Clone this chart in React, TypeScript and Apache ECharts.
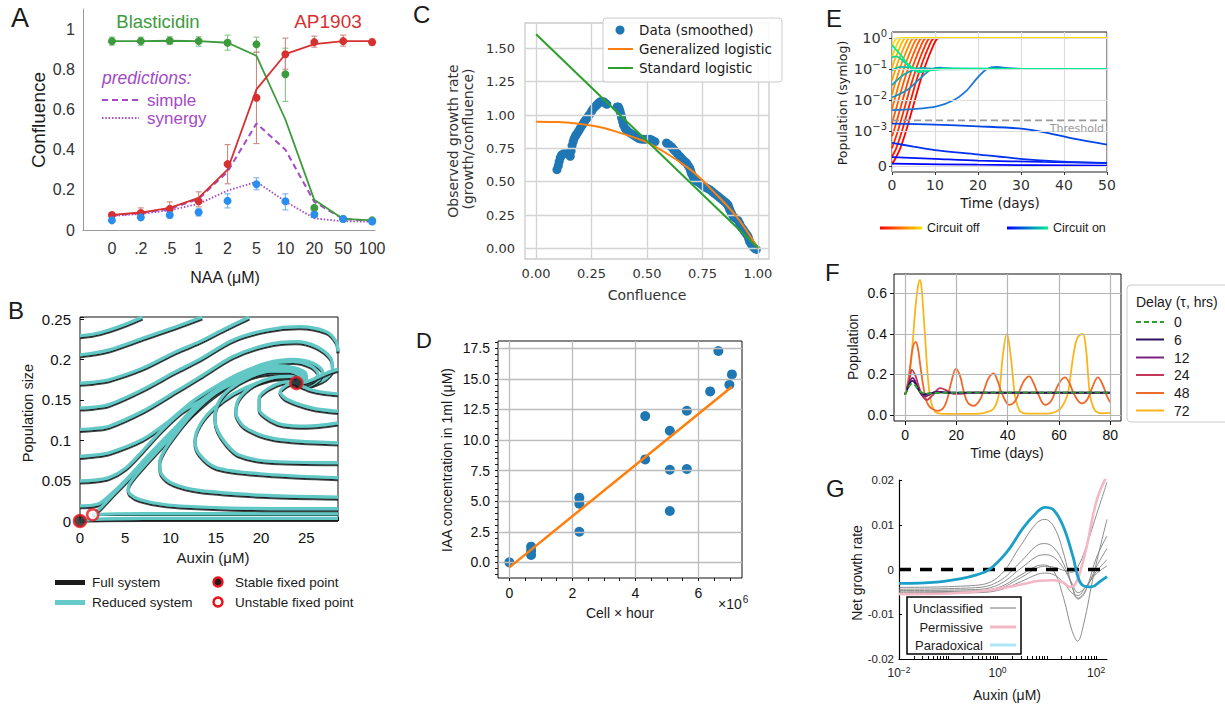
import React, { useEffect, useRef } from 'react';
import * as echarts from 'echarts';

const SANS = '"Liberation Sans", Arial, Helvetica, sans-serif';
const DEJA = '"DejaVu Sans", Verdana, sans-serif';
const PURP = '#a44ac6';

/* ---------------- Panel A ---------------- */
const naaLabels = ['0', '.2', '.5', '1', '2', '5', '10', '20', '50', '100'];
const blastDots = [0.94, 0.94, 0.942, 0.94, 0.932, 0.924, 0.775, 0.11, 0.055, 0.048];
const blastFit = [0.94, 0.94, 0.942, 0.94, 0.932, 0.867, 0.55, 0.15, 0.055, 0.048];
const blastErr = [[0.92, 0.96], [0.92, 0.96], [0.925, 0.962], [0.915, 0.962], [0.895, 0.97], [0.885, 0.96], [0.64, 0.905], [0.1, 0.12], [0.05, 0.06], [0.04, 0.055]];
const apDots = [0.075, 0.085, 0.105, 0.143, 0.328, 0.658, 0.875, 0.935, 0.94, 0.935];
const apFit = [0.075, 0.087, 0.11, 0.16, 0.3, 0.7, 0.875, 0.925, 0.94, 0.94];
const apErr = [[0.065, 0.085], [0.07, 0.11], [0.09, 0.14], [0.115, 0.19], [0.23, 0.425], [0.43, 0.885], [0.8, 0.955], [0.91, 0.965], [0.915, 0.97], [0.92, 0.95]];
const comboDots = [0.048, 0.063, 0.075, 0.088, 0.145, 0.228, 0.143, 0.077, 0.055, 0.042];
const comboErr = [[0.04, 0.055], [0.05, 0.075], [0.06, 0.09], [0.07, 0.105], [0.11, 0.18], [0.2, 0.26], [0.1, 0.18], [0.065, 0.09], [0.05, 0.062], [0.035, 0.05]];
const predSimple = [0.072, 0.085, 0.105, 0.155, 0.29, 0.53, 0.4, 0.14, 0.055, 0.045];
const predSynergy = [0.07, 0.08, 0.098, 0.13, 0.196, 0.24, 0.142, 0.058, 0.043, 0.042];

/* ---------------- Panel B ---------------- */
const streamLines = [
  [[0, 0.2294], [1.5, 0.2315], [3.2, 0.2365], [5, 0.2435], [6.9, 0.2525]],
  [[0, 0.2057], [1.5, 0.208], [3.2, 0.2118], [6.9, 0.2261], [10.6, 0.2405], [13.5, 0.2525]],
  [[0, 0.1707], [1.5, 0.172], [3.2, 0.1749], [6.9, 0.1892], [10.6, 0.2097], [13.2, 0.222], [16, 0.238], [18.7, 0.2525]],
  [[0, 0.1399], [1.5, 0.141], [3.2, 0.1441], [6.9, 0.1626], [10.6, 0.1851], [13.2, 0.2], [16.9, 0.2241], [20.6, 0.2364], [24.2, 0.2405], [27.2, 0.2344], [28.3, 0.222], [28.5, 0.21]],
  [[0, 0.1133], [1.5, 0.1145], [3.2, 0.1174], [6.9, 0.1358], [10.6, 0.1605], [13.2, 0.178], [16.9, 0.2036], [20.6, 0.218], [23.9, 0.222], [26.1, 0.216], [27.7, 0.2015], [27.9, 0.1872], [27.2, 0.177], [26.2, 0.171], [25, 0.1672], [24.1, 0.1685], [23.9, 0.1707]],
  [[0, 0.08], [1.5, 0.0815], [3.2, 0.0845], [6.9, 0.101], [9.8, 0.1235], [12.4, 0.148], [15, 0.1666], [17.5, 0.182], [20.6, 0.1955], [23.5, 0.2], [25.7, 0.1955], [26.8, 0.185], [26.4, 0.175], [25, 0.1675], [23.9, 0.1707]],
  [[0, 0.0496], [1.5, 0.0505], [3.2, 0.0537], [5.1, 0.066], [6.9, 0.0866], [9.1, 0.1133], [11.3, 0.1358], [13.5, 0.15], [15, 0.161], [17, 0.177], [20.6, 0.1935], [23.5, 0.1975], [25.5, 0.192], [26.3, 0.182], [25.7, 0.1735], [24.6, 0.1695], [23.9, 0.1707]],
  [[0, 0.0189], [1.3, 0.0195], [2.2, 0.022], [3.5, 0.034], [5.14, 0.052], [7.7, 0.083], [10.3, 0.113], [13.2, 0.147], [16.15, 0.17], [19.1, 0.1865], [21.7, 0.1925], [23.6, 0.19], [24.9, 0.1835], [25, 0.1755], [24.4, 0.171], [23.9, 0.1707]],
  [[1.4, 0.0078], [2.2, 0.0155], [3.5, 0.031], [5.14, 0.05], [7.7, 0.0815], [10.3, 0.1115], [13.2, 0.1455], [16.15, 0.1685], [19.1, 0.1845], [21.7, 0.1905], [23.5, 0.1885], [24.6, 0.1825], [24.7, 0.175], [23.9, 0.1707]],
  [[28.5, 0.0032], [20, 0.0032], [10, 0.0032], [4, 0.003], [1, 0.0018], [0, 0.0005]],
  [[28.5, 0.0092], [20, 0.0092], [10, 0.0092], [4, 0.009], [1.4, 0.0078]],
  [[28.5, 0.0152], [16.9, 0.016], [9.5, 0.0201], [6.6, 0.0267], [5.5, 0.0337], [5.32, 0.0398], [5.7, 0.05], [7.2, 0.07], [9.5, 0.098], [12.5, 0.133], [15.5, 0.161], [18.5, 0.18], [21.5, 0.1885], [23.4, 0.186], [24.4, 0.1795], [24.4, 0.173], [23.9, 0.1707]],
  [[28.5, 0.0296], [20.6, 0.0316], [13.2, 0.0378], [10.3, 0.046], [9, 0.058], [8.8, 0.0727], [9.4, 0.089], [10.7, 0.1096], [12.5, 0.1342], [15, 0.1589], [18, 0.1753], [20.6, 0.1827], [22.8, 0.1835], [24.2, 0.1786], [24.4, 0.1732], [23.9, 0.1707]],
  [[28.5, 0.0537], [20.6, 0.0579], [15.1, 0.066], [13.2, 0.0825], [12.7, 0.1], [13.3, 0.12], [14.8, 0.14], [17, 0.158], [19.5, 0.1705], [22, 0.177], [23.6, 0.1765], [24.2, 0.1725], [23.9, 0.1707]],
  [[28.5, 0.0722], [20.6, 0.0743], [17.5, 0.082], [16.2, 0.0948], [15.2, 0.112], [14.9, 0.1276], [15.3, 0.147], [16.5, 0.163], [18.7, 0.178], [21, 0.1855], [23, 0.1855], [24.3, 0.18], [24.5, 0.1735], [23.9, 0.1707]],
  [[28.5, 0.0968], [24.2, 0.0989], [21.5, 0.102], [19.8, 0.1071], [18, 0.118], [17.2, 0.135], [17.6, 0.152], [19.1, 0.168], [21.3, 0.1775], [23.2, 0.179], [24.2, 0.1755], [23.9, 0.1707]],
  [[28.5, 0.1214], [25, 0.1174], [22.5, 0.119], [21.3, 0.1235], [19.8, 0.138], [19.8, 0.1525], [20.8, 0.164], [22.3, 0.1715], [23.5, 0.1725], [23.9, 0.1707]],
  [[28.5, 0.1358], [25.6, 0.14], [22.8, 0.151], [22.1, 0.16], [22.8, 0.168], [23.6, 0.1715], [23.9, 0.1707]],
  [[28.5, 0.188], [27.2, 0.183], [25.9, 0.176], [24.6, 0.1712], [23.9, 0.1707]],
  [[28.5, 0.1575], [27, 0.159], [25.5, 0.1625], [24.5, 0.167], [23.9, 0.1707]],
];
const stablePts = [[0, 0], [23.9, 0.1707]];
const unstablePts = [[1.4, 0.0078]];

/* ---------------- Panel C ---------------- */
const cData = [[0.094, 0.59], [0.1, 0.62], [0.104, 0.65], [0.109, 0.68], [0.115, 0.7], [0.124, 0.71], [0.135, 0.71], [0.147, 0.71], [0.154, 0.69], [0.158, 0.73], [0.162, 0.77], [0.167, 0.8], [0.172, 0.825], [0.178, 0.845], [0.184, 0.86], [0.192, 0.88], [0.199, 0.9], [0.206, 0.92], [0.214, 0.94], [0.221, 0.958], [0.229, 0.975], [0.236, 0.993], [0.244, 1.01], [0.251, 1.03], [0.259, 1.05], [0.266, 1.063], [0.274, 1.075], [0.281, 1.088], [0.289, 1.1], [0.296, 1.1], [0.304, 1.1], [0.311, 1.09], [0.319, 1.08], [0.365, 1.06], [0.371, 1.06], [0.375, 1.045], [0.379, 1.025], [0.383, 1.0], [0.386, 0.975], [0.39, 0.95], [0.394, 0.925], [0.401, 0.9], [0.408, 0.888], [0.416, 0.875], [0.427, 0.862], [0.439, 0.85], [0.45, 0.838], [0.461, 0.825], [0.472, 0.82], [0.484, 0.818], [0.498, 0.818], [0.513, 0.818], [0.525, 0.81], [0.536, 0.8], [0.588, 0.79], [0.6, 0.775], [0.611, 0.76], [0.618, 0.745], [0.626, 0.73], [0.637, 0.71], [0.648, 0.69], [0.656, 0.675], [0.663, 0.66], [0.671, 0.65], [0.678, 0.64], [0.686, 0.62], [0.693, 0.6], [0.697, 0.58], [0.701, 0.56], [0.708, 0.535], [0.716, 0.51], [0.727, 0.5], [0.738, 0.49], [0.749, 0.475], [0.76, 0.46], [0.772, 0.45], [0.783, 0.44], [0.794, 0.425], [0.805, 0.41], [0.817, 0.395], [0.828, 0.38], [0.839, 0.365], [0.85, 0.35], [0.858, 0.338], [0.865, 0.325], [0.869, 0.308], [0.873, 0.29], [0.88, 0.265], [0.888, 0.24], [0.899, 0.225], [0.91, 0.21], [0.918, 0.185], [0.925, 0.16], [0.933, 0.143], [0.94, 0.125], [0.948, 0.108], [0.955, 0.09], [0.959, 0.07], [0.963, 0.05], [0.97, 0.03], [0.978, 0.012], [0.985, 0.0], [0.993, -0.008]];
const cGeneralized = [[0, 0.95], [0.1, 0.947], [0.2, 0.933], [0.3, 0.905], [0.4, 0.855], [0.5, 0.795], [0.6, 0.7], [0.7, 0.585], [0.75, 0.51], [0.8, 0.425], [0.85, 0.34], [0.9, 0.245], [0.95, 0.13], [1, 0.0]];
const cStandard = [[0, 1.605], [1, 0.005]];

/* ---------------- Panel D ---------------- */
const dCellHours = [0, 0.69, 0.69, 0.69, 2.22, 2.22, 2.22, 4.31, 4.31, 5.09, 5.09, 5.09, 5.63, 5.63, 6.37, 6.63, 6.98, 7.06];
const dIAA = [0, 1.28, 0.95, 0.6, 5.29, 4.8, 2.5, 11.96, 8.42, 10.76, 7.57, 4.2, 12.4, 7.63, 13.98, 17.28, 14.52, 15.37];
const dFit = [[0, -0.41], [7.06, 14.36]];

/* ---------------- Panel E (population values) ---------------- */
const eOff = [
  [[0, 9e-5], [0.37, 1.25e-4], [1.92, 5.1e-4], [3.47, 1.26e-3], [5.01, 7.1e-3], [6.56, 0.04], [8.1, 0.178], [9.65, 0.6], [10.4, 0.93], [11, 1], [50, 1]],
  [[0, 2.7e-4], [0.97, 5.1e-4], [2.52, 1.26e-3], [4.06, 7.1e-3], [5.61, 0.04], [7.15, 0.178], [8.7, 0.6], [9.45, 0.93], [10.05, 1], [50, 1]],
  [[0, 5.1e-4], [1.57, 1.26e-3], [3.11, 7.1e-3], [4.66, 0.04], [6.2, 0.178], [7.75, 0.6], [8.5, 0.93], [9.1, 1], [50, 1]],
  [[0, 8.6e-4], [0.62, 1.26e-3], [2.16, 7.1e-3], [3.71, 0.04], [5.25, 0.178], [6.8, 0.6], [7.55, 0.93], [8.15, 1], [50, 1]],
  [[0, 1.82e-3], [1.21, 7.1e-3], [2.76, 0.04], [4.3, 0.178], [5.85, 0.6], [6.6, 0.93], [7.2, 1], [50, 1]],
  [[0, 5.2e-3], [0.26, 7.1e-3], [1.81, 0.04], [3.35, 0.178], [4.9, 0.6], [5.65, 0.93], [6.25, 1], [50, 1]],
  [[0, 0.0151], [0.86, 0.04], [2.4, 0.178], [3.95, 0.6], [4.7, 0.93], [5.3, 1], [50, 1]],
  [[0, 0.0437], [1.45, 0.178], [3.0, 0.6], [3.75, 0.93], [4.35, 1], [50, 1]],
  [[0, 0.11], [0.5, 0.178], [2.05, 0.6], [2.8, 0.93], [3.4, 1], [50, 1]],
  [[0, 0.25], [1.1, 0.6], [1.85, 0.93], [2.45, 1], [50, 1]],
  [[0, 0.54], [0.15, 0.6], [0.9, 0.93], [1.5, 1], [50, 1]],
];
const eOffColors = ['#ff0000', '#ff1800', '#ff2e00', '#ff4500', '#ff5c00', '#ff7300', '#ff8a00', '#ffa100', '#ffb800', '#ffcf00', '#ffe100'];
const eOn = [
  [[0, 7e-5], [20, 4e-5], [50, 1e-5]],
  [[0, 2.6e-4], [10, 2.1e-4], [20, 1.6e-4], [35, 1.2e-4], [50, 9e-5]],
  [[0, 6.7e-4], [5, 5.6e-4], [10, 4.6e-4], [19.7, 3.4e-4], [29.8, 2.1e-4], [37.5, 1.45e-4], [50, 8.6e-5]],
  [[0, 1.78e-3], [10, 1.65e-3], [20, 1.45e-3], [30, 1.23e-3], [35.2, 9.8e-4], [42.2, 7.9e-4], [50, 6.2e-4]],
  [[0, 4.8e-3], [5, 5.2e-3], [10.4, 6.4e-3], [14.3, 0.01], [17.4, 0.021], [19.7, 0.05], [22, 0.1], [24.4, 0.118], [27, 0.108], [32, 0.102], [50, 0.102]],
  [[0, 0.0123], [3.5, 0.0214], [6.6, 0.051], [8.9, 0.095], [11.2, 0.112], [14.3, 0.104], [50, 0.102]],
  [[0, 0.031], [2.7, 0.066], [5, 0.095], [7, 0.11], [10, 0.104], [50, 0.102]],
  [[0, 0.092], [2, 0.12], [4, 0.115], [7, 0.1], [50, 0.102]],
  [[0, 0.24], [1, 0.26], [2.7, 0.178], [5, 0.095], [6.6, 0.08], [9, 0.095], [12, 0.104], [50, 0.102]],
  [[0, 0.6], [2, 0.29], [3.5, 0.155], [5, 0.107], [6.6, 0.087], [9.7, 0.095], [13, 0.104], [50, 0.102]],
];
const eOnColors = ['#0000ff', '#0014fa', '#0030f0', '#0046e6', '#1a78d6', '#1490c8', '#10a8b8', '#0cc0ac', '#08d8a0', '#00f090'];
const eThreshold = 2.25e-3;
const eTickValues = [0, 1e-3, 1e-2, 1e-1, 1];
const eTickExponents = [null, -3, -2, -1, 0];

/* ---------------- Panel F ---------------- */
const fDelays = ['0', '6', '12', '24', '48', '72'];
const fColors = ['#2ca02c', '#2d1160', '#7b2382', '#c2375a', '#ee6a2b', '#fbb51c'];
const fTau0 = [[0, 0.1], [1, 0.125], [2, 0.148], [3, 0.155], [4, 0.145], [5, 0.128], [6, 0.115], [7, 0.108], [9, 0.106], [12, 0.108], [20, 0.11], [80, 0.11]];
const fTau6 = [[0, 0.1], [1, 0.13], [2, 0.16], [3, 0.168], [4, 0.155], [5, 0.13], [6, 0.112], [7, 0.103], [8, 0.102], [10, 0.108], [13, 0.111], [20, 0.11], [80, 0.11]];
const fTau12 = [[0, 0.1], [1, 0.135], [2, 0.17], [3, 0.182], [4, 0.165], [5, 0.135], [6, 0.108], [7, 0.094], [8, 0.092], [10, 0.103], [12, 0.115], [14, 0.114], [17, 0.107], [20, 0.108], [25, 0.11], [80, 0.11]];
const fTau24 = [[0, 0.1], [1, 0.14], [2, 0.19], [2.6, 0.222], [4, 0.195], [5, 0.155], [5.85, 0.123], [7, 0.09], [8.5, 0.074], [9.8, 0.085], [11, 0.1], [13.7, 0.132], [16.3, 0.12], [18.9, 0.104], [21.5, 0.104], [26.7, 0.11], [31, 0.109], [40, 0.108], [80, 0.108]];
const fTau48 = [[0, 0.1], [1, 0.15], [2, 0.24], [3, 0.33], [4.2, 0.36], [5, 0.33], [6, 0.24], [7, 0.15], [8, 0.085], [9, 0.05], [10.5, 0.03], [13, 0.02], [15, 0.035], [16.5, 0.08], [18, 0.16], [19.9, 0.227], [21.5, 0.19], [23, 0.11], [24.5, 0.06], [26.7, 0.045], [29, 0.07], [31, 0.13], [32.5, 0.18], [34.5, 0.205], [36, 0.17], [38, 0.1], [40.6, 0.05], [43, 0.07], [45, 0.13], [46.5, 0.17], [48.4, 0.19], [50, 0.16], [52, 0.1], [54.6, 0.05], [57, 0.07], [59, 0.13], [60.5, 0.165], [62.3, 0.185], [64, 0.16], [66, 0.1], [68.9, 0.057], [71, 0.075], [73, 0.135], [75.2, 0.185], [77, 0.15], [79, 0.085], [80, 0.063]];
const fTau72 = [[0, 0.1], [1, 0.15], [2, 0.22], [3, 0.36], [4, 0.52], [5, 0.63], [5.85, 0.666], [6.5, 0.62], [7.2, 0.5], [7.8, 0.39], [8.8, 0.2], [9.75, 0.09], [10.7, 0.04], [11.7, 0.016], [13, 0.008], [16, 0.005], [25, 0.005], [30, 0.008], [32, 0.014], [34.5, 0.03], [36.4, 0.09], [37.3, 0.18], [38.1, 0.29], [39.7, 0.4], [41.2, 0.29], [42.1, 0.18], [42.9, 0.09], [44, 0.04], [45, 0.016], [48, 0.006], [55, 0.006], [58, 0.012], [60.5, 0.03], [62.5, 0.07], [63.7, 0.12], [64.7, 0.21], [65.7, 0.3], [67.2, 0.38], [69.2, 0.4], [70.5, 0.33], [71.3, 0.21], [72.2, 0.09], [73.5, 0.035], [74.5, 0.016], [77, 0.008], [80, 0.01]];

/* ---------------- Panel G ---------------- */
const gParadoxical = [[0.01, -0.0031], [0.058, -0.0028], [0.172, -0.0021], [0.375, -0.0012], [0.7, 0.0001], [1.52, 0.0038], [3.31, 0.0093], [6.17, 0.0127], [9.1, 0.0139], [13.4, 0.0134], [21.4, 0.0097], [34.2, 0.0027], [43.2, -0.0018], [54.5, -0.0036], [80.3, -0.0039], [119, -0.0027], [166, -0.0016]];
const gPermissive = [[0.01, -0.0055], [0.126, -0.0053], [0.6, -0.0047], [2.84, -0.0034], [7.2, -0.0025], [13.4, -0.0024], [21.4, -0.0029], [29.3, -0.0039], [37, -0.0034], [46.7, -0.0007], [63.7, 0.0049], [101.6, 0.0153], [166, 0.021]];
const gUnclassified = [
  [[0.01, -0.004], [0.3, -0.0036], [1, -0.0018], [3, 0.0055], [6, 0.0102], [9, 0.0112], [14, 0.0095], [22, 0.0035], [32, -0.0035], [43, -0.0066], [60, -0.005], [100, 0.0025], [166, 0.0075]],
  [[0.01, -0.0044], [0.3, -0.0041], [1, -0.0028], [3, 0.0018], [6, 0.0052], [9, 0.0058], [14, 0.0048], [22, 0.0012], [32, -0.0035], [43, -0.0064], [60, -0.0048], [100, 0.0005], [166, 0.0047]],
  [[0.01, -0.0047], [0.3, -0.0045], [1, -0.0035], [3, 0.0003], [6, 0.0028], [9, 0.0033], [14, 0.0027], [22, 0.0002], [32, -0.003], [43, -0.0052], [60, -0.004], [100, -0.0005], [166, 0.0022]],
  [[0.01, -0.005], [0.3, -0.0048], [1, -0.0041], [3, -0.0012], [6, 0.0007], [9, 0.001], [14, -0.0005], [22, -0.0065], [32, -0.0135], [42, -0.016], [55, -0.0125], [90, -0.001], [166, 0.0112]],
  [[0.01, -0.0052], [0.3, -0.005], [1, -0.0044], [3, -0.0018], [6, 0.0002], [9, 0.0007], [14, 0.0005], [22, -0.0002], [32, -0.0006], [42, 0.0005], [60, 0.0045], [100, 0.012], [166, 0.0195]],
  [[0.01, -0.0054], [0.3, -0.0052], [1, -0.0047], [3, -0.0027], [6, -0.0012], [9, -0.0008], [14, -0.0012], [22, -0.003], [32, -0.0052], [43, -0.0058], [60, -0.004], [100, -0.001], [166, 0.0008]],
];
const gMinorTicks = [0.01, 0.02, 0.03, 0.04, 0.05, 0.06, 0.07, 0.08, 0.09, 0.1, 0.2, 0.3, 0.4, 0.5, 0.6, 0.7, 0.8, 0.9, 1, 2, 3, 4, 5, 6, 7, 8, 9, 10, 20, 30, 40, 50, 60, 70, 80, 90, 100];

/* ---------------- helpers ---------------- */
const symlog = (v: number) => (v < 1e-3 ? (1.12 * v) / 1e-3 : 1.12 + Math.log10(v / 1e-3));
const expStr = (n: number) => String(n).replace('-', '−');

function txt(x: number, y: number, text: string, o: any = {}) {
  return {
    type: 'text', x, y, rotation: o.rot ? (o.rot * Math.PI) / 180 : 0, z: 60, silent: true,
    style: {
      text, fill: o.color || '#1a1a1a', fontSize: o.size || 14, fontFamily: o.family || SANS,
      fontStyle: o.italic ? 'italic' : 'normal', align: o.align || 'left', verticalAlign: 'middle',
      rich: o.rich,
    },
  };
}
function gline(x1: number, y1: number, x2: number, y2: number, stroke: string, lw: number, dash?: number[]) {
  return { type: 'line', z: 60, silent: true, shape: { x1, y1, x2, y2 }, style: { stroke, lineWidth: lw, lineDash: dash || null } };
}

function buildOption(): any {
  const series: any[] = [];
  const L = (g: number, data: any, color: string, width: number, extra: any = {}) => ({
    type: 'line', xAxisIndex: g, yAxisIndex: g, data, showSymbol: false, symbol: 'none', silent: true,
    smooth: extra.smooth ?? false, z: extra.z ?? 3, clip: true,
    lineStyle: { color, width, type: extra.dash || 'solid', cap: 'butt', ...(extra.ls || {}) },
  });
  const gridLines = (g: number, xs: number[], ys: number[], color: string, width: number, anchor: number[]) => ({
    type: 'line', xAxisIndex: g, yAxisIndex: g, data: [anchor], symbol: 'none', showSymbol: false, z: 1, silent: true,
    lineStyle: { width: 0, opacity: 0 },
    markLine: {
      silent: true, symbol: ['none', 'none'], label: { show: false }, animation: false, emphasis: { disabled: true },
      lineStyle: { color, width, type: 'solid' },
      data: [...xs.map((v) => ({ xAxis: v })), ...ys.map((v) => ({ yAxis: v }))],
    },
  });
  const errSeries = (g: number, err: number[][], color: string) => ({
    type: 'custom', xAxisIndex: g, yAxisIndex: g, silent: true, z: 2,
    data: err.map((e, i) => [i, e[0], e[1]]),
    encode: { x: 0, y: [1, 2] },
    renderItem: (_p: any, api: any) => {
      const x = api.value(0);
      const lo = api.coord([x, api.value(1)]);
      const hi = api.coord([x, api.value(2)]);
      const st = { stroke: color, lineWidth: 1.1 };
      return {
        type: 'group', children: [
          { type: 'line', shape: { x1: lo[0], y1: lo[1], x2: hi[0], y2: hi[1] }, style: st },
          { type: 'line', shape: { x1: lo[0] - 3, y1: lo[1], x2: lo[0] + 3, y2: lo[1] }, style: st },
          { type: 'line', shape: { x1: hi[0] - 3, y1: hi[1], x2: hi[0] + 3, y2: hi[1] }, style: st },
        ],
      };
    },
  });
  const idx = (a: number[]) => a.map((v, i) => [i, v]);
  const dots = (g: number, data: any, color: string, size: number, z = 4) => ({
    type: 'scatter', xAxisIndex: g, yAxisIndex: g, data, symbol: 'circle', symbolSize: size, silent: true, z,
    itemStyle: { color, opacity: 1 },
  });

  /* A */
  series.push(errSeries(0, blastErr, '#86c286'));
  series.push(errSeries(0, apErr, '#c98a80'));
  series.push(errSeries(0, comboErr, '#7fb2ee'));
  series.push(L(0, idx(predSimple), PURP, 2, { dash: [6, 4] }));
  series.push(L(0, idx(predSynergy), PURP, 1.8, { dash: [1.5, 1.8] }));
  series.push(L(0, idx(blastFit), '#3d9b3d', 1.8));
  series.push(L(0, idx(apFit), '#d63030', 1.8));
  series.push(dots(0, idx(blastDots), '#3d9b3d', 8));
  series.push(dots(0, idx(apDots), '#d63030', 8));
  series.push(dots(0, idx(comboDots), '#2a8ef0', 8));

  /* B */
  streamLines.forEach((d) =>
    series.push(L(1, d, '#62c8c6', 3.2, { smooth: 0.3, ls: { shadowColor: '#1b1b1b', shadowBlur: 0, shadowOffsetX: 0, shadowOffsetY: 1.8 } }))
  );
  series.push({ ...dots(1, stablePts, '#1b1b1b', 12, 6), clip: false, itemStyle: { color: '#1b1b1b', borderColor: '#e8141b', borderWidth: 2.5 } });
  series.push({ ...dots(1, unstablePts, '#ffffff', 11, 6), clip: false, itemStyle: { color: '#ffffff', borderColor: '#e8141b', borderWidth: 2.5 } });

  /* C */
  series.push(gridLines(2, [0, 0.25, 0.5, 0.75, 1], [0, 0.25, 0.5, 0.75, 1, 1.25, 1.5], '#d4d4d4', 1.4, [0.5, 0.5]));
  series.push(dots(2, cData, '#1f77b4', 9, 3));
  series.push(L(2, cGeneralized, '#ff7f0e', 2, { smooth: 0.3, z: 5 }));
  series.push(L(2, cStandard, '#2ca02c', 2, { z: 5 }));

  /* D */
  series.push(gridLines(3, [0, 2, 4, 6], [0, 2.5, 5, 7.5, 10, 12.5, 15, 17.5], '#bdbdbd', 1.3, [3, 5]));
  series.push(dots(3, dCellHours.map((x, i) => [x, dIAA[i]]), '#1f77b4', 10, 3));
  series.push(L(3, dFit, '#ff7f0e', 2.5, { z: 5 }));

  /* E */
  const eTickU = eTickValues.map(symlog);
  series.push(gridLines(4, [], eTickU, '#dcdcdc', 1.2, [25, 2]));
  eOff.forEach((d, i) => series.push(L(4, d.map(([t, p]) => [t, symlog(p)]), eOffColors[i], 1.8, { smooth: 0.3 })));
  eOn.forEach((d, i) => series.push(L(4, d.map(([t, p]) => [t, symlog(p)]), eOnColors[i], 1.8, { smooth: 0.3 })));
  series.push(L(4, [[0, symlog(eThreshold)], [50, symlog(eThreshold)]], '#9a9a9a', 1.8, { dash: [7, 4], z: 6 }));

  /* F */
  series.push(gridLines(5, [0, 20, 40, 60, 80], [0, 0.2, 0.4, 0.6], '#b5b5b5', 1.2, [40, 0.3]));
  [fTau72, fTau48, fTau24, fTau12, fTau6].forEach((d, k) => {
    const i = 5 - k;
    series.push(L(5, d, fColors[i], 1.8, { smooth: 0.4 }));
  });
  series.push(L(5, fTau0, fColors[0], 2, { dash: [5, 3], z: 6, smooth: 0.4 }));

  /* G */
  gUnclassified.forEach((d) => series.push(L(6, d, '#8c8c8c', 1, { smooth: 0.4 })));
  series.push(L(6, [[0.01, 0], [166, 0]], '#000000', 3.5, { dash: [12, 9], z: 4 }));
  series.push(L(6, gPermissive, '#f2b8c6', 2.6, { smooth: 0.4, z: 5 }));
  series.push(L(6, gParadoxical, '#1a9fc8', 2.8, { smooth: 0.4, z: 5 }));

  const lab = (size: number, family = SANS, color = '#222', margin = 8, extra: any = {}) => ({
    fontSize: size, fontFamily: family, color, margin, ...extra,
  });
  const noSplit = { show: false };
  const richE = {
    b: { fontSize: 14.5, fontFamily: DEJA, color: '#333' },
    s: { fontSize: 10, fontFamily: DEJA, color: '#333', padding: [0, 0, 9, 0] },
  };
  const richG = {
    b: { fontSize: 12, fontFamily: SANS, color: '#222' },
    s: { fontSize: 8.5, fontFamily: SANS, color: '#222', padding: [0, 0, 7, 0] },
  };

  const xAxis = [
    { gridIndex: 0, type: 'value', min: -1, max: 9.1, interval: 1, axisLine: { show: true, onZero: false, lineStyle: { color: '#9a9a9a' } }, axisTick: { show: false }, splitLine: noSplit,
      axisLabel: lab(16, SANS, '#333', 10, { formatter: (v: number) => { const r = Math.round(v); return Math.abs(v - r) < 1e-6 && r >= 0 && r < naaLabels.length ? naaLabels[r] : ''; } }) },
    { gridIndex: 1, type: 'value', min: 0, max: 28.5, interval: 5, axisLine: { show: false, onZero: false }, axisTick: { show: true, inside: true, length: 4, lineStyle: { color: '#111' } }, splitLine: noSplit,
      axisLabel: lab(15, SANS, '#111', 9, { formatter: (v: number) => (Math.abs(v / 5 - Math.round(v / 5)) < 1e-6 ? String(Math.round(v)) : '') }) },
    { gridIndex: 2, type: 'value', min: -0.05, max: 1.05, axisLine: { show: false, onZero: false }, axisTick: { show: false }, splitLine: noSplit,
      axisLabel: lab(13, DEJA, '#333', 8, { customValues: [0, 0.25, 0.5, 0.75, 1], formatter: (v: number) => v.toFixed(2) }) },
    { gridIndex: 3, type: 'value', min: -0.36, max: 7.38, axisLine: { show: false, onZero: false }, axisTick: { show: true, length: 3, customValues: [0, 0.5, 1, 1.5, 2, 2.5, 3, 3.5, 4, 4.5, 5, 5.5, 6, 6.5, 7], lineStyle: { color: '#111' } }, splitLine: noSplit,
      axisLabel: lab(14, SANS, '#111', 8, { customValues: [0, 2, 4, 6], formatter: (v: number) => String(Math.round(v)) }) },
    { gridIndex: 4, type: 'value', min: 0, max: 50, interval: 10, axisLine: { show: false, onZero: false }, axisTick: { show: true, length: 3, lineStyle: { color: '#333' } }, splitLine: { show: true, lineStyle: { color: '#dcdcdc', width: 1.2 } },
      axisLabel: lab(14, DEJA, '#333', 6) },
    { gridIndex: 5, type: 'value', min: -4.3, max: 84.2, axisLine: { show: false, onZero: false }, axisTick: { show: true, length: 4, customValues: [0, 20, 40, 60, 80], lineStyle: { color: '#111' } }, splitLine: noSplit,
      axisLabel: lab(14, SANS, '#111', 7, { customValues: [0, 20, 40, 60, 80], formatter: (v: number) => String(Math.round(v)) }) },
    { gridIndex: 6, type: 'log', logBase: 10, min: 0.01, max: 166, axisLine: { show: true, onZero: false, lineStyle: { color: '#000', width: 1.2 } }, axisTick: { show: true, inside: true, length: 3, customValues: gMinorTicks, lineStyle: { color: '#000' } }, splitLine: noSplit, minorTick: { show: false },
      axisLabel: lab(12, SANS, '#222', 6, { rich: richG, formatter: (v: number) => { const lg = Math.log10(v); const e = Math.round(lg); if (Math.abs(lg - e) > 1e-6 || e % 2 !== 0) return ''; return '{b|10}{s|' + expStr(e) + '}'; } }) },
  ];
  const yAxis = [
    { gridIndex: 0, type: 'value', min: 0, max: 1.1, interval: 0.2, axisLine: { show: true, onZero: false, lineStyle: { color: '#9a9a9a' } }, axisTick: { show: false }, splitLine: noSplit,
      axisLabel: lab(16, SANS, '#333', 8, { formatter: (v: number) => (v > 1.05 ? '' : String(+v.toFixed(1))) }) },
    { gridIndex: 1, type: 'value', min: 0, max: 0.2525, interval: 0.05, axisLine: { show: false, onZero: false }, axisTick: { show: true, inside: true, length: 4, lineStyle: { color: '#111' } }, splitLine: noSplit,
      axisLabel: lab(15, SANS, '#111', 9, { formatter: (v: number) => { const k = v / 0.05; return Math.abs(k - Math.round(k)) < 1e-6 ? String(+v.toFixed(2)) : ''; } }) },
    { gridIndex: 2, type: 'value', min: -0.08, max: 1.69, axisLine: { show: false, onZero: false }, axisTick: { show: false }, splitLine: noSplit,
      axisLabel: lab(13, DEJA, '#333', 10, { customValues: [0, 0.25, 0.5, 0.75, 1, 1.25, 1.5], formatter: (v: number) => v.toFixed(2) }) },
    { gridIndex: 3, type: 'value', min: -1.28, max: 18.1, axisLine: { show: false, onZero: false }, axisTick: { show: true, length: 3, customValues: Array.from({ length: 39 }, (_, i) => -1 + i * 0.5), lineStyle: { color: '#111' } }, splitLine: noSplit,
      axisLabel: lab(14, SANS, '#111', 8, { customValues: [0, 2.5, 5, 7.5, 10, 12.5, 15, 17.5], formatter: (v: number) => v.toFixed(1) }) },
    { gridIndex: 4, type: 'value', min: -0.19, max: 4.32, axisLine: { show: false, onZero: false }, axisTick: { show: true, length: 3, customValues: eTickU, lineStyle: { color: '#333' } }, splitLine: noSplit,
      axisLabel: lab(14, DEJA, '#333', 5, { rich: richE, customValues: eTickU, formatter: (v: number) => { const i = eTickU.findIndex((u) => Math.abs(u - v) < 1e-6); if (i < 0) return ''; const e = eTickExponents[i]; return e === null ? '{b|0}' : '{b|10}{s|' + expStr(e) + '}'; } }) },
    { gridIndex: 5, type: 'value', min: -0.03, max: 0.695, axisLine: { show: false, onZero: false }, axisTick: { show: true, length: 4, customValues: [0, 0.2, 0.4, 0.6], lineStyle: { color: '#111' } }, splitLine: noSplit,
      axisLabel: lab(14, SANS, '#111', 7, { customValues: [0, 0.2, 0.4, 0.6], formatter: (v: number) => v.toFixed(1) }) },
    { gridIndex: 6, type: 'value', min: -0.02, max: 0.02, interval: 0.01, axisLine: { show: true, onZero: false, lineStyle: { color: '#000', width: 1.2 } }, axisTick: { show: true, inside: true, length: 3, lineStyle: { color: '#000' } }, splitLine: noSplit,
      axisLabel: lab(11.5, SANS, '#222', 5, { formatter: (v: number) => (Math.abs(v) < 1e-9 ? '0' : String(+v.toFixed(2))) }) },
  ];

  const grid = [
    { left: 83, top: 9, width: 292, height: 221 },
    { left: 80, top: 317, width: 258, height: 204, show: true, borderColor: '#111', borderWidth: 1 },
    { left: 525, top: 23, width: 244, height: 236, show: true, borderColor: '#cccccc', borderWidth: 1.3 },
    { left: 498, top: 341, width: 244, height: 237, show: true, borderColor: '#111', borderWidth: 1 },
    { left: 892, top: 32, width: 215, height: 140, show: true, borderColor: '#222', borderWidth: 1 },
    { left: 894, top: 274, width: 227, height: 147, show: true, borderColor: '#111', borderWidth: 1 },
    { left: 899, top: 480, width: 208, height: 179 },
  ];

  const gradOff = new echarts.graphic.LinearGradient(0, 0, 1, 0, [{ offset: 0, color: '#ff0000' }, { offset: 1, color: '#ffe100' }]);
  const gradOn = new echarts.graphic.LinearGradient(0, 0, 1, 0, [{ offset: 0, color: '#0000ff' }, { offset: 1, color: '#00f090' }]);
  const fLegendY = [322, 339.5, 357.5, 375, 393, 410.5];

  const elements: any[] = [
    // A
    txt(11, 18, 'A', { size: 27 }),
    txt(158, 21, 'Blasticidin', { size: 18.5, color: '#3d9b3d', align: 'center' }),
    txt(328, 21, 'AP1903', { size: 19, color: '#d63030', align: 'center' }),
    txt(102, 78, 'predictions:', { size: 17.5, color: PURP, italic: true }),
    gline(102, 100, 139, 100, PURP, 2, [6, 4]),
    txt(147, 100, 'simple', { size: 17, color: PURP }),
    gline(102, 118, 139, 118, PURP, 2, [1.5, 1.8]),
    txt(147, 118, 'synergy', { size: 17, color: PURP }),
    txt(38, 120, 'Confluence', { size: 19, rot: 90, align: 'center' }),
    txt(225, 277, 'NAA (μM)', { size: 16, align: 'center' }),
    // B
    txt(8, 310, 'B', { size: 24 }),
    txt(28, 413, 'Population size', { size: 14.5, rot: 90, align: 'center' }),
    txt(213, 557, 'Auxin (μM)', { size: 15, align: 'center' }),
    { type: 'rect', z: 60, silent: true, shape: { x: 55, y: 580, width: 30, height: 5 }, style: { fill: '#1b1b1b' } },
    txt(92, 582, 'Full system', { size: 13.5 }),
    { type: 'rect', z: 60, silent: true, shape: { x: 55, y: 600, width: 30, height: 5 }, style: { fill: '#66caca' } },
    txt(92, 602, 'Reduced system', { size: 13.5 }),
    { type: 'circle', z: 60, silent: true, shape: { cx: 218, cy: 582, r: 4.5 }, style: { fill: '#1b1b1b', stroke: '#e8141b', lineWidth: 2.5 } },
    txt(235, 582, 'Stable fixed point', { size: 13.5 }),
    { type: 'circle', z: 60, silent: true, shape: { cx: 218, cy: 602, r: 4.5 }, style: { fill: '#ffffff', stroke: '#e8141b', lineWidth: 2.5 } },
    txt(235, 602, 'Unstable fixed point', { size: 13.5 }),
    // C
    txt(413, 14, 'C', { size: 24 }),
    txt(453, 141, 'Observed growth rate', { size: 14, rot: 90, align: 'center', family: DEJA, color: '#333' }),
    txt(468, 139, '(growth/confluence)', { size: 14, rot: 90, align: 'center', family: DEJA, color: '#333' }),
    txt(647, 295, 'Confluence', { size: 14, align: 'center', family: DEJA, color: '#333' }),
    { type: 'rect', z: 58, silent: true, shape: { x: 603, y: 18, width: 179, height: 64, r: 3 }, style: { fill: 'rgba(255,255,255,0.85)', stroke: '#cccccc', lineWidth: 1 } },
    { type: 'circle', z: 60, silent: true, shape: { cx: 620, cy: 30, r: 4.5 }, style: { fill: '#1f77b4' } },
    txt(639, 30, 'Data (smoothed)', { size: 13.5, family: DEJA }),
    gline(608, 49, 633, 49, '#ff7f0e', 2),
    txt(639, 49, 'Generalized logistic', { size: 13.5, family: DEJA }),
    gline(608, 68, 633, 68, '#2ca02c', 2),
    txt(639, 68, 'Standard logistic', { size: 13.5, family: DEJA }),
    // D
    txt(416, 340, 'D', { size: 22 }),
    txt(447, 460, 'IAA concentration in 1ml (μM)', { size: 14, rot: 90, align: 'center' }),
    txt(620, 613, 'Cell × hour', { size: 14, align: 'center' }),
    txt(718, 604, '{b|×10}{s|6}', { size: 14, rich: { b: { fontSize: 14, fontFamily: SANS, color: '#111' }, s: { fontSize: 10, fontFamily: SANS, color: '#111', padding: [0, 0, 9, 1] } } }),
    // E
    txt(826, 18, 'E', { size: 24 }),
    txt(842, 103, 'Population (symlog)', { size: 12.5, rot: 90, align: 'center', family: DEJA }),
    txt(1000, 203, 'Time (days)', { size: 13.5, align: 'center', family: DEJA }),
    txt(1104, 128, 'Threshold', { size: 11, align: 'right', family: DEJA, color: '#9a9a9a' }),
    { type: 'rect', z: 60, silent: true, shape: { x: 880, y: 226.5, width: 42, height: 3 }, style: { fill: gradOff } },
    txt(927, 228, 'Circuit off', { size: 12.5 }),
    { type: 'rect', z: 60, silent: true, shape: { x: 1007, y: 226.5, width: 41, height: 3 }, style: { fill: gradOn } },
    txt(1053, 228, 'Circuit on', { size: 12.5 }),
    // F
    txt(825, 272, 'F', { size: 24 }),
    txt(853, 347, 'Population', { size: 14, rot: 90, align: 'center' }),
    txt(1007, 453, 'Time (days)', { size: 14, align: 'center' }),
    { type: 'rect', z: 58, silent: true, shape: { x: 1127, y: 285, width: 110, height: 137, r: 4 }, style: { fill: '#ffffff', stroke: '#cccccc', lineWidth: 1 } },
    txt(1136, 302, 'Delay (τ, hrs)', { size: 14 }),
    ...fDelays.flatMap((lbl, i) => [
      gline(1136, fLegendY[i], 1164, fLegendY[i], fColors[i], 2, i === 0 ? [5, 3] : undefined),
      txt(1174, fLegendY[i], lbl, { size: 14 }),
    ]),
    // G
    txt(826, 488, 'G', { size: 24 }),
    txt(857, 573, 'Net growth rate', { size: 14, rot: 90, align: 'center' }),
    txt(1007, 695, 'Auxin (μM)', { size: 14, align: 'center' }),
    { type: 'rect', z: 58, silent: true, shape: { x: 907, y: 597, width: 114, height: 57 }, style: { fill: '#ffffff', stroke: '#000000', lineWidth: 1.5 } },
    txt(983, 608, 'Unclassified', { size: 13, align: 'right' }),
    gline(990, 608, 1016, 608, '#777777', 1),
    txt(983, 627, 'Permissive', { size: 13, align: 'right' }),
    gline(990, 627, 1016, 627, '#f2b8c6', 3),
    txt(983, 645, 'Paradoxical', { size: 13, align: 'right' }),
    gline(990, 645, 1016, 645, '#aee6f5', 3),
  ];

  return {
    animation: false,
    backgroundColor: '#ffffff',
    textStyle: { fontFamily: SANS },
    grid,
    xAxis,
    yAxis,
    series,
    graphic: { elements },
  };
}

export default function App() {
  const ref = useRef<HTMLDivElement>(null);
  useEffect(() => {
    if (!ref.current) return;
    const chart = echarts.init(ref.current, undefined, { renderer: 'svg' });
    chart.setOption(buildOption());
    return () => chart.dispose();
  }, []);
  return <div ref={ref} style={{ position: 'absolute', left: 0, top: 0, width: 1225, height: 704, background: '#fff' }} />;
}
